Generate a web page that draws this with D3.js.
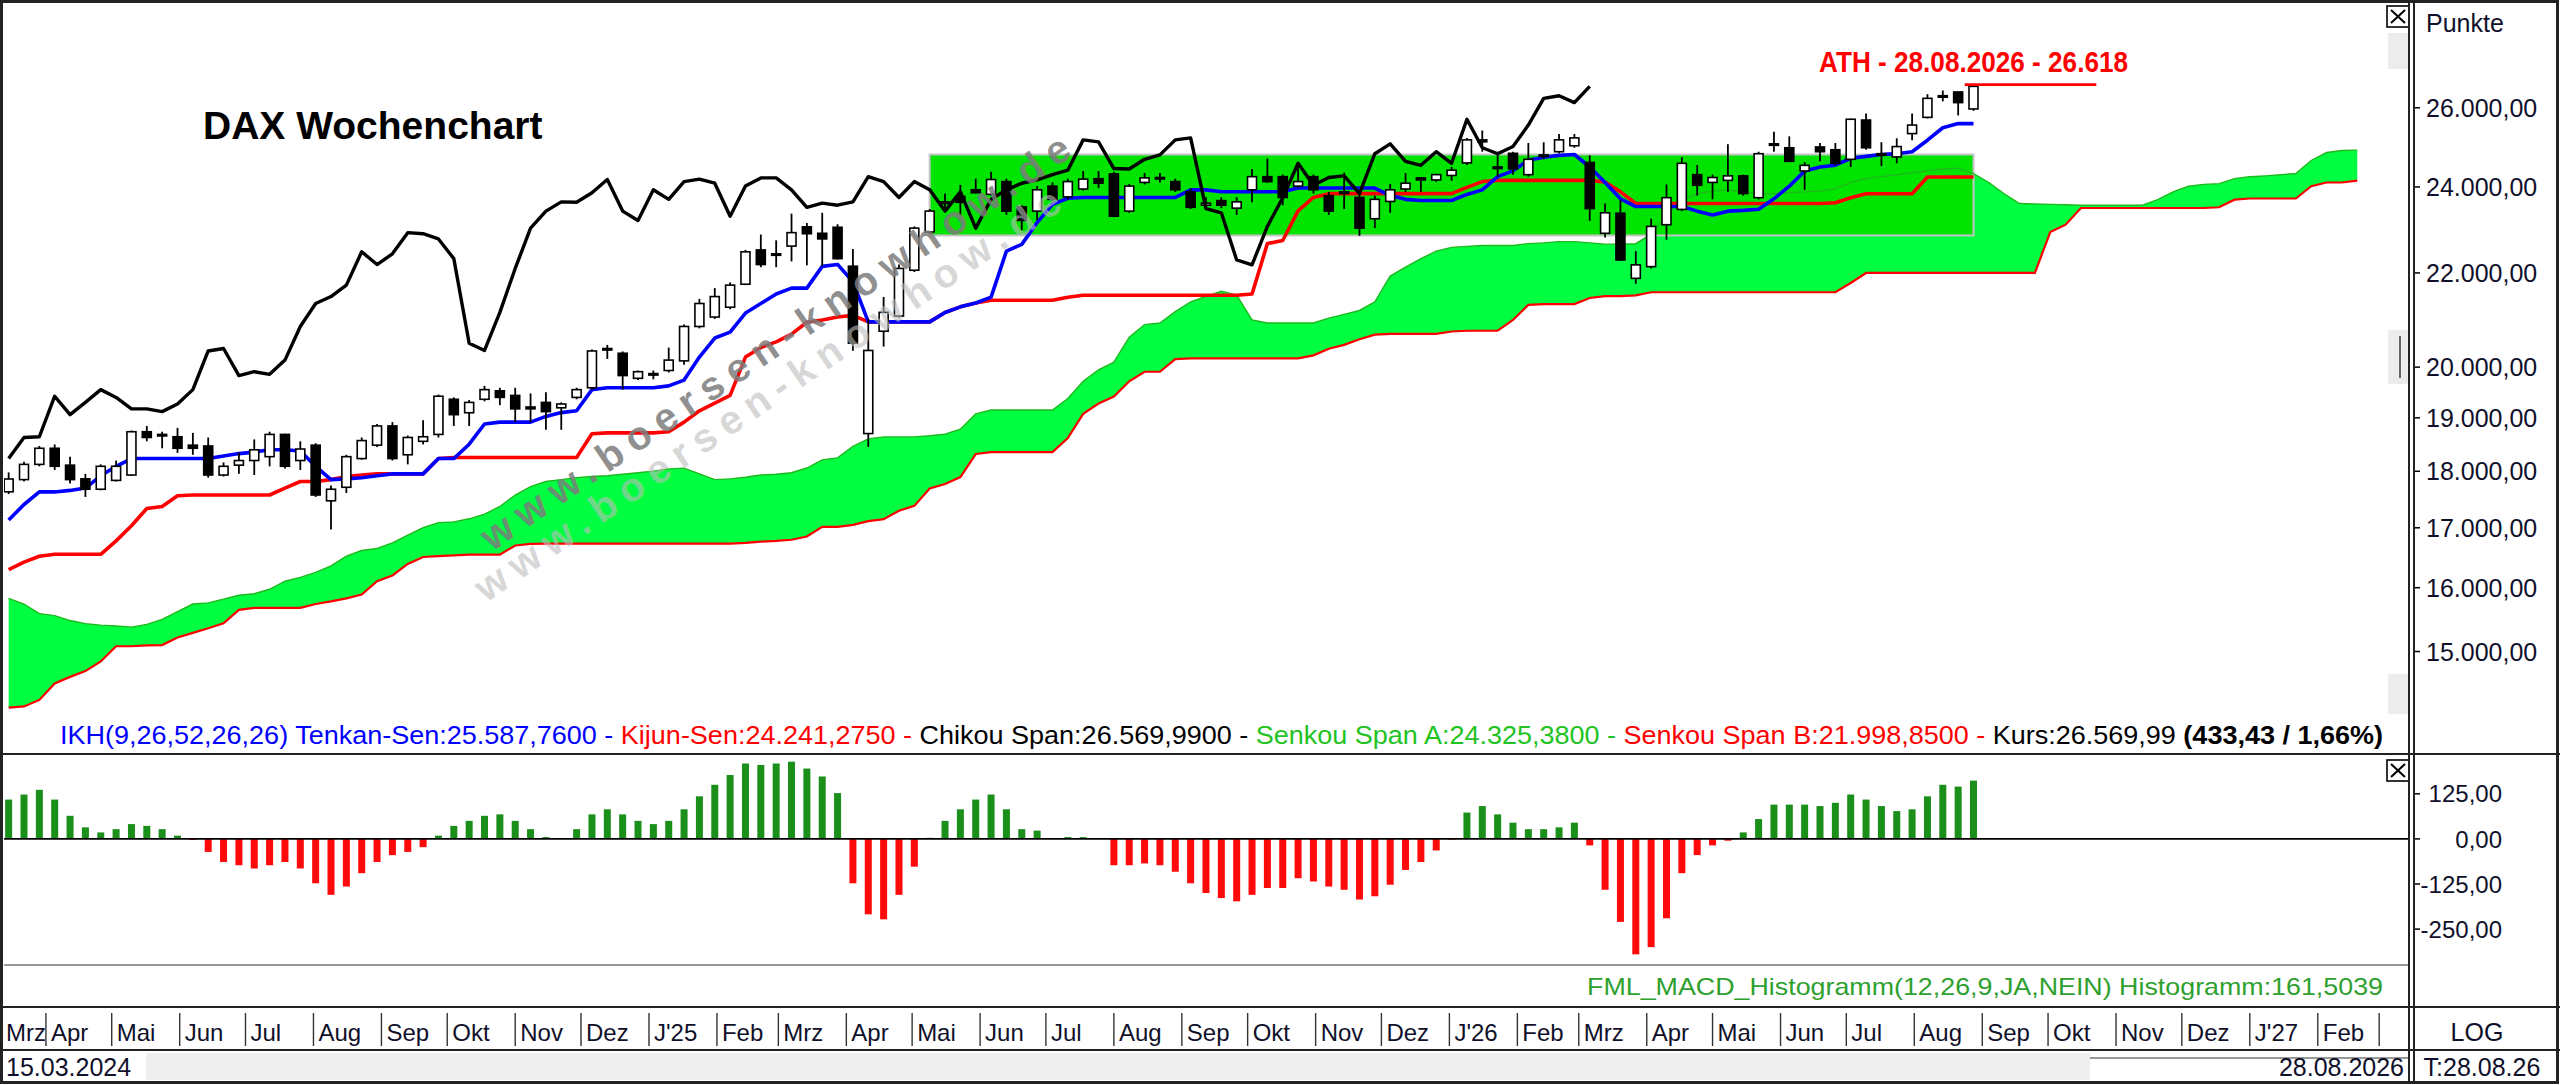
<!DOCTYPE html>
<html>
<head>
<meta charset="utf-8">
<script src="https://cdn.jsdelivr.net/npm/d3@7"></script>
<style>
  body { margin: 0; background: #fff; }
  svg { display: block; }
  text { font-family: "Liberation Sans", Arial, sans-serif; }
</style>
</head>
<body>
<svg id="chart" width="2560" height="1085"></svg>
<script>
// weekly candles, first week ends 15.03.2024
const firstWeek = "2024-03-15";
const opens = [17630,17849,18126,18424,18112,17863,17676,17835,17932,18735,18684,18640,18482,18467,17932,18112,18197,18268,18684,18197,
  18482,17470,17711,18233,18482,18845,18303,18554,18684,19360,19098,19360,19527,19436,19210,19299,19194,19397,19587,20360,
  20283,19775,19870,19932,20127,20840,21040,21250,21750,22518,22400,22606,23050,22900,23040,22150,18700,20740,21060,22060,
  22930,23600,23770,23930,23820,24130,23520,23420,24020,23760,23950,24200,24320,23420,24110,24230,24130,23880,23560,23670,
  23490,23930,24250,24250,24020,24250,23790,23840,23745,23240,23650,23950,24220,24170,24280,24590,25170,24490,24830,24300,
  24770,24870,25020,24600,22900,23370,21880,22140,23100,23460,24300,24110,24160,24270,23740,25040,24970,24390,24990,24920,
  24680,25680,24800,24740,25330,25750,26290,26420,25970];
const highs = [17980,18175,18467,18496,18268,17953,18126,18197,18757,18845,18735,18808,18713,18626,18162,18339,18590,18735,18698,18554,
  18518,17745,18303,18626,18882,18918,18662,18955,19451,19397,19345,19625,19587,19587,19474,19497,19299,19587,20360,20455,
  20320,19932,19932,20400,20880,21430,21665,21790,22518,22871,22738,23360,23140,23380,23110,22540,21000,21470,22190,23060,
  23470,23840,24050,24200,24370,24200,23560,24020,24110,24200,24390,24390,24370,24070,24340,24340,24200,23970,23750,23750,
  23750,24440,24700,24300,24580,24300,23880,24350,23840,23790,24070,24340,24220,24320,24490,25220,25410,24870,24870,25090,
  25110,25320,25320,24780,23600,23690,22490,23240,24060,24730,24540,24300,25060,24300,24870,25380,25260,24610,25090,25090,
  25720,25850,25110,25210,25850,26360,26460,26420,26618];
const lows = [17590,17815,18091,18022,17780,17539,17656,17815,17918,18554,18424,18339,18303,17884,17904,17953,17932,18091,18050,18022,
  17539,16970,17608,18211,18446,18197,18126,18496,18626,18845,18845,19321,19246,18918,18918,18772,18772,19360,19550,20166,
  19550,19740,19755,19893,20050,20800,21000,21206,21730,22128,22128,22257,22170,22150,22300,20335,18450,20420,21030,22020,
  22890,23430,23300,23840,23790,23330,22970,23200,23650,23700,23910,23970,23280,23380,24060,24110,23880,23470,23450,23490,
  23330,23630,24100,23560,23980,23840,23330,23470,22840,23020,23380,23880,23880,24120,24150,24540,24870,24250,24300,24250,
  24680,24830,24970,23190,22800,22270,21760,22100,22750,23420,23790,23700,23880,23790,23700,24870,24610,23930,24630,24530,
  24490,24920,24510,24580,25160,25720,26170,25800,25920];
const closes = [17860,18126,18424,18091,17849,17676,18091,18091,18735,18626,18655,18424,18424,17932,18091,18197,18396,18684,18091,18410,
  17573,17676,18268,18568,18845,18233,18626,18640,19420,19061,19299,19550,19397,19173,19173,19120,19268,19550,20330,20380,
  19830,19908,19855,20143,20840,21330,21480,21730,22475,22187,22430,22915,22890,22770,22320,20490,20340,21140,22100,23020,
  23420,23640,23630,23860,24180,23420,23200,23930,23700,24130,24190,24090,23300,24020,24220,24220,23930,23510,23610,23560,
  23640,24250,24130,23745,24130,23930,23420,23880,23020,23700,23930,24090,24170,24300,24410,25170,25120,24450,24440,24680,
  24790,25170,25220,23480,23380,22290,22180,23060,23740,24580,24040,24230,24270,23840,24820,25070,24630,24530,24870,24580,
  25700,24970,24820,25000,25550,26250,26320,26137,26570];

// Ichimoku lines
const tenkan = [17136,17405,17628,17628,17655,17697,17918,18091,18233,18233,18233,18233,18233,18233,18282,18325,18353,18396,18396,18374,
  18091,17849,17863,17884,17918,17953,17953,17953,18233,18233,18500,18882,18918,18918,18918,19028,19101,19136,19550,19587,
  19587,19587,19587,19625,19740,20205,20598,20720,21124,21330,21537,21665,21665,22146,22190,21805,20937,20937,20937,20937,
  20937,21138,21258,21342,21467,22491,22645,23150,23580,23727,23745,23745,23745,23745,23745,23745,23745,23928,23928,23882,
  23882,23882,23882,23882,23973,23973,23973,23973,23973,23973,23790,23700,23672,23672,23672,23818,23928,24250,24393,24658,
  24730,24778,24800,24489,24108,23712,23528,23528,23528,23528,23419,23330,23419,23437,23465,23712,24017,24392,24487,24534,
  24705,24753,24802,24821,24870,25161,25480,25588,25588];
const kijun = [16295,16420,16518,16550,16550,16550,16550,16776,17036,17336,17370,17559,17573,17573,17573,17573,17573,17573,17697,17815,
  17815,17849,17904,17932,17953,17953,17953,17953,18233,18254,18254,18254,18254,18254,18254,18254,18254,18254,18698,18713,
  18713,18713,18713,18735,18918,19136,19284,19436,20205,20400,20517,20680,20930,20977,21042,21075,20937,20937,20937,20937,
  20937,21138,21258,21342,21400,21400,21400,21400,21400,21467,21510,21510,21510,21510,21510,21510,21510,21510,21510,21510,
  21510,21535,22663,22734,23425,23745,23837,23837,23837,23837,23837,23837,23837,23837,23837,23990,24130,24160,24160,24160,
  24160,24160,24160,24160,24120,23880,23600,23600,23600,23600,23600,23600,23600,23600,23600,23600,23600,23600,23600,23620,
  23740,23834,23834,23834,23834,24241,24241,24241,24241];
const senkouA = [15829,15738,15586,15555,15477,15429,15405,15393,15375,15417,15495,15616,15738,15756,15817,15878,15902,15975,16105,16168,
  16250,16358,16518,16614,16647,16743,16873,17003,17089,17102,17155,17236,17370,17573,17724,17814,17849,17884,17904,17918,
  17946,17974,18002,18043,18057,17953,17849,17863,17891,17932,17946,17974,18060,18210,18246,18458,18600,18637,18637,18637,
  18658,18688,18782,19076,19150,19150,19150,19150,19150,19376,19716,19945,20100,20614,20880,20913,21155,21367,21485,21594,
  21510,20977,20913,20913,20913,20913,21017,21098,21180,21367,21931,22130,22320,22490,22577,22600,22620,22620,22620,22663,
  22680,22708,22708,22680,22650,22650,22660,22880,23330,23693,23834,23898,23926,23880,23834,23834,23862,23880,23898,23953,
  24108,24203,24250,24298,24345,24392,24440,24460,24325,24108,23834,23600,23590,23580,23570,23560,23560,23560,23560,23560,
  23693,23880,24017,24062,24080,24203,24250,24270,24298,24327,24650,24850,24900,24910];
const senkouB = [14172,14189,14283,14523,14620,14706,14850,15080,15080,15092,15098,15213,15285,15357,15434,15646,15677,15677,15677,15677,
  15738,15780,15829,15890,16105,16199,16390,16505,16518,16531,16545,16545,16545,16698,16724,16731,16731,16731,16731,16731,
  16731,16731,16731,16731,16731,16731,16731,16731,16743,16763,16776,16795,16850,17015,17015,17050,17116,17149,17295,17381,
  17688,17770,17895,18317,18352,18352,18352,18352,18352,18615,19076,19277,19413,19716,19907,19907,20162,20178,20178,20178,
  20178,20178,20178,20178,20178,20240,20375,20455,20573,20669,20685,20685,20685,20685,20734,20750,20750,20750,20977,21300,
  21317,21317,21317,21450,21490,21490,21506,21574,21574,21574,21574,21574,21574,21574,21574,21574,21574,21574,21574,21574,
  21776,21999,21999,21999,21999,21999,21999,21999,21999,21999,21999,21999,21999,22930,23100,23493,23493,23493,23493,23493,
  23493,23493,23493,23493,23512,23693,23720,23720,23720,23720,24017,24108,24108,24155];
const chikouShift = 25;

// MACD histogram (12,26,9)
const macdHist = [109,123,136,109,64,32,18,27,41,36,27,9,-3,-36,-64,-73,-82,-73,-64,-82,
  -123,-155,-132,-95,-64,-45,-36,-23,9,36,50,64,68,50,27,5,2,27,68,82,
  68,50,41,50,82,118,150,177,209,205,209,214,195,173,127,-123,-209,-223,-155,-77,
  3,50,82,109,123,82,27,23,2,5,5,2,-73,-73,-68,-73,-91,-123,-150,-164,
  -173,-155,-136,-136,-109,-118,-132,-141,-168,-159,-127,-86,-64,-32,-2,73,91,68,45,27,
  27,32,45,-18,-141,-230,-320,-300,-220,-95,-45,-18,-5,18,55,95,95,95,91,100,
  123,109,91,77,82,118,150,145,161.5];

const monthLabels = ["Mrz","Apr","Mai","Jun","Jul","Aug","Sep","Okt","Nov","Dez","J'25","Feb",
  "Mrz","Apr","Mai","Jun","Jul","Aug","Sep","Okt","Nov","Dez","J'26","Feb",
  "Mrz","Apr","Mai","Jun","Jul","Aug","Sep","Okt","Nov","Dez","J'27","Feb"];
const priceTicks = [15000,16000,17000,18000,19000,20000,22000,24000,26000];
const macdTicks = [125,0,-125,-250];

// consolidation box and all time high
const boxFrom = "2025-05-09", boxTo = "2026-08-28";
const boxLow = 22850, boxHigh = 24800;
const athDate = "2026-08-28", athValue = 26618;

const legendParts = [
  {text: "IKH(9,26,52,26,26) Tenkan-Sen:25.587,7600 - ", color: "#0000ff"},
  {text: "Kijun-Sen:24.241,2750 - ", color: "#ff0000"},
  {text: "Chikou Span:26.569,9900 - ", color: "#000000"},
  {text: "Senkou Span A:24.325,3800 - ", color: "#22c322"},
  {text: "Senkou Span B:21.998,8500 - ", color: "#ff0000"},
  {text: "Kurs:26.569,99 ", color: "#000000"},
  {text: "(433,43 / 1,66%)", color: "#000000", bold: true}
];

const svg = d3.select("#chart");
const plotL = 4, plotR = 2409, mainT = 4, mainB = 754, macdB = 1007, axisB = 1050, bottomB = 1082;
const narrow = "'Liberation Sans Narrow','Arial Narrow','Liberation Sans',sans-serif";

const parse = d3.utcParse("%Y-%m-%d");
const start = parse(firstWeek);
const weekDate = i => d3.utcDay.offset(start, 7 * i);
const weeks = opens.map((_, i) => weekDate(i));

const x = d3.scaleUtc().domain([start, weeks[weeks.length - 1]]).range([8.65, 1973.5]);
const y = d3.scaleLog().domain([15000, 26000]).range([651.5, 107.8]);
const ym = d3.scaleLinear().domain([-250, 125]).range([929.1, 793.8]);

svg.append("rect").attr("width", 2560).attr("height", 1085).attr("fill", "#fff");

const defs = svg.append("defs");
defs.append("clipPath").attr("id", "clipMain").append("rect")
  .attr("x", plotL).attr("y", mainT).attr("width", plotR - plotL - 1).attr("height", mainB - mainT - 2);
defs.append("clipPath").attr("id", "clipMacd").append("rect")
  .attr("x", plotL).attr("y", mainB + 2).attr("width", plotR - plotL - 1).attr("height", macdB - mainB - 4);

const main = svg.append("g").attr("clip-path", "url(#clipMain)");

// cloud
const cloud = senkouA.map((a, i) => ({d: weekDate(i), a, b: senkouB[i]}));
main.append("path").datum(cloud)
  .attr("fill", "#00ff40")
  .attr("d", d3.area().x(p => x(p.d)).y0(p => y(p.b)).y1(p => y(p.a)));

// box
main.append("rect")
  .attr("x", x(parse(boxFrom))).attr("width", x(parse(boxTo)) - x(parse(boxFrom)))
  .attr("y", y(boxHigh)).attr("height", y(boxLow) - y(boxHigh))
  .attr("fill", "#00e400").attr("stroke", "#c4c4c4").attr("stroke-width", 2);

const line = d3.line().x(p => x(p.d)).y(p => y(p.v));
const series = (arr, off = 0) => arr.map((v, i) => ({d: weekDate(i - off), v}));

main.append("path").datum(series(senkouA)).attr("d", line)
  .attr("fill", "none").attr("stroke", "#1fb81f").attr("stroke-width", 1.4);
main.append("path").datum(series(senkouB)).attr("d", line)
  .attr("fill", "none").attr("stroke", "#ff0000").attr("stroke-width", 2.2);
main.append("path").datum(series(kijun)).attr("d", line)
  .attr("fill", "none").attr("stroke", "#ff0000").attr("stroke-width", 3.6).attr("stroke-linejoin", "round");
main.append("path").datum(series(tenkan)).attr("d", line)
  .attr("fill", "none").attr("stroke", "#0000ff").attr("stroke-width", 3.6).attr("stroke-linejoin", "round");

// candles
const candles = weeks.map((d, i) => ({d, o: opens[i], h: highs[i], l: lows[i], c: closes[i]}));
const cg = main.append("g").selectAll("g").data(candles).enter().append("g");
cg.append("line")
  .attr("x1", p => x(p.d)).attr("x2", p => x(p.d))
  .attr("y1", p => y(p.h)).attr("y2", p => y(p.l))
  .attr("stroke", "#000").attr("stroke-width", 1.8);
cg.append("rect")
  .attr("x", p => x(p.d) - 4.5).attr("width", 9)
  .attr("y", p => y(Math.max(p.o, p.c)))
  .attr("height", p => Math.max(1.5, Math.abs(y(p.o) - y(p.c))))
  .attr("fill", p => p.c >= p.o ? "#fff" : "#000")
  .attr("stroke", "#000").attr("stroke-width", 1.6);

// chikou span = close shifted back
main.append("path").datum(series(closes.slice(chikouShift))).attr("d", line)
  .attr("fill", "none").attr("stroke", "#000").attr("stroke-width", 3.4).attr("stroke-linejoin", "round");

// ATH
main.append("line")
  .attr("x1", x(d3.utcDay.offset(parse(athDate), -4))).attr("x2", x(d3.utcDay.offset(parse(athDate), 56)))
  .attr("y1", y(athValue)).attr("y2", y(athValue))
  .attr("stroke", "#ff0000").attr("stroke-width", 2.6);
svg.append("text").attr("x", x(parse(athDate))).attr("y", 72).attr("text-anchor", "middle")
  .attr("font-family", narrow).attr("font-weight", "bold").attr("font-size", 30)
  .attr("fill", "#ff0000").attr("textLength", 309).attr("lengthAdjust", "spacingAndGlyphs")
  .text("ATH - 28.08.2026 - 26.618");

// title
svg.append("text").attr("x", 203).attr("y", 139).attr("font-weight", "bold").attr("font-size", 39)
  .attr("fill", "#000").text("DAX Wochenchart");

// watermark
const wm = svg.append("g").attr("font-weight", "bold").attr("font-size", 40);
wm.append("text").attr("transform", "translate(486,603) rotate(-34.3)")
  .attr("fill", "#bdbdbd").attr("fill-opacity", 0.6)
  .attr("textLength", 700).attr("lengthAdjust", "spacing").text("www.boersen-knowhow.de");
wm.append("text").attr("transform", "translate(492,552) rotate(-34.3)")
  .attr("fill", "#7c7c7c").attr("fill-opacity", 0.85)
  .attr("textLength", 704).attr("lengthAdjust", "spacing").text("www.boersen-knowhow.de");

// main legend
const legend = svg.append("text").attr("x", 60).attr("y", 744)
  .attr("font-family", narrow).attr("font-size", 25)
  .attr("textLength", 2323).attr("lengthAdjust", "spacingAndGlyphs")
  .style("white-space", "pre");
legendParts.forEach(p => legend.append("tspan").attr("fill", p.color)
  .attr("font-weight", p.bold ? "bold" : null).text(p.text));

// MACD
const macd = svg.append("g").attr("clip-path", "url(#clipMacd)");
macd.selectAll("rect").data(macdHist).enter().append("rect")
  .attr("x", (v, i) => x(weeks[i]) - 3.5).attr("width", 7)
  .attr("y", v => Math.min(ym(0), ym(v)))
  .attr("height", v => Math.abs(ym(v) - ym(0)))
  .attr("fill", v => v >= 0 ? "#1a8f1a" : "#ff0a0a");
svg.append("line").attr("x1", plotL).attr("x2", plotR).attr("y1", ym(0)).attr("y2", ym(0))
  .attr("stroke", "#000").attr("stroke-width", 1.6);
svg.append("line").attr("x1", plotL).attr("x2", plotR).attr("y1", 965).attr("y2", 965)
  .attr("stroke", "#333").attr("stroke-width", 1.2);
svg.append("text").attr("x", 2383).attr("y", 995).attr("text-anchor", "end")
  .attr("font-family", narrow).attr("font-size", 24).attr("fill", "#2ea02e")
  .attr("textLength", 796).attr("lengthAdjust", "spacingAndGlyphs")
  .text("FML_MACD_Histogramm(12,26,9,JA,NEIN) Histogramm:161,5039");

// right axis
const axisX = 2414;
const yAxis = svg.append("g");
yAxis.selectAll("line").data(priceTicks).enter().append("line")
  .attr("x1", axisX).attr("x2", axisX + 6).attr("y1", v => y(v)).attr("y2", v => y(v))
  .attr("stroke", "#000").attr("stroke-width", 1.5);
yAxis.selectAll("text").data(priceTicks).enter().append("text")
  .attr("x", 2426).attr("y", v => y(v)).attr("dy", "0.36em")
  .attr("font-size", 25).attr("fill", "#10102a")
  .text(v => d3.format(",.2f")(v).replace(/,/g, "#").replace(".", ",").replace(/#/g, "."));
svg.append("text").attr("x", 2426).attr("y", 32).attr("font-size", 25).attr("fill", "#10102a").text("Punkte");

const mAxis = svg.append("g");
mAxis.selectAll("line").data(macdTicks).enter().append("line")
  .attr("x1", axisX).attr("x2", axisX + 6).attr("y1", v => ym(v)).attr("y2", v => ym(v))
  .attr("stroke", "#000").attr("stroke-width", 1.5);
mAxis.selectAll("text").data(macdTicks).enter().append("text")
  .attr("x", 2502).attr("y", v => ym(v)).attr("dy", "0.36em").attr("text-anchor", "end")
  .attr("font-size", 24).attr("fill", "#10102a")
  .text(v => d3.format(".2f")(v).replace(".", ",").replace("−", "-"));

// time axis
const months = d3.utcMonth.range(Date.UTC(2024, 3, 1), Date.UTC(2027, 2, 2)).filter(m => x(m) < plotR - 4);
const tAxis = svg.append("g");
tAxis.selectAll("line").data(months).enter().append("line")
  .attr("x1", m => x(m)).attr("x2", m => x(m)).attr("y1", 1013).attr("y2", 1046)
  .attr("stroke", "#333").attr("stroke-width", 1.4);
tAxis.selectAll("text").data(monthLabels).enter().append("text")
  .attr("x", (t, k) => k === 0 ? 6 : x(months[k - 1]) + 5).attr("y", 1041)
  .attr("font-size", 24).attr("fill", "#10102a").text(t => t);

// bottom row
svg.append("rect").attr("x", 146).attr("y", 1053).attr("width", 1944).attr("height", 27).attr("fill", "#efefef");
svg.append("line").attr("x1", 2090).attr("x2", 2408).attr("y1", 1058).attr("y2", 1058).attr("stroke", "#777").attr("stroke-width", 1.5);
svg.append("text").attr("x", 6).attr("y", 1076).attr("font-size", 25).attr("fill", "#10102a").text("15.03.2024");
svg.append("text").attr("x", 2404).attr("y", 1076).attr("text-anchor", "end").attr("font-size", 25).attr("fill", "#10102a").text("28.08.2026");
svg.append("text").attr("x", 2477).attr("y", 1041).attr("text-anchor", "middle").attr("font-size", 25).attr("fill", "#10102a").text("LOG");
svg.append("text").attr("x", 2482).attr("y", 1076).attr("text-anchor", "middle").attr("font-size", 25).attr("fill", "#10102a").text("T:28.08.26");

// little window widgets
const ui = svg.append("g");
[[33, 36], [330, 54], [674, 40]].forEach(([top, h]) =>
  ui.append("rect").attr("x", 2388).attr("y", top).attr("width", 21).attr("height", h).attr("fill", "#ececec"));
ui.append("line").attr("x1", 2400).attr("x2", 2400).attr("y1", 336).attr("y2", 378).attr("stroke", "#666").attr("stroke-width", 2);
[6, 760].forEach(top => {
  ui.append("rect").attr("x", 2387).attr("y", top).attr("width", 22).attr("height", 21)
    .attr("fill", "#fff").attr("stroke", "#000").attr("stroke-width", 1.6);
  ui.append("path").attr("d", `M2391,${top + 4}L2405,${top + 17}M2405,${top + 4}L2391,${top + 17}`)
    .attr("stroke", "#000").attr("stroke-width", 2);
});

// frame
const frame = svg.append("g").attr("stroke", "#222").attr("fill", "none");
frame.append("rect").attr("x", 1.5).attr("y", 1.5).attr("width", 2556).attr("height", 1081).attr("stroke-width", 3);
frame.append("line").attr("x1", plotR).attr("x2", plotR).attr("y1", 0).attr("y2", bottomB).attr("stroke-width", 2);
frame.append("line").attr("x1", axisX).attr("x2", axisX).attr("y1", 0).attr("y2", bottomB).attr("stroke-width", 2);
[mainB, macdB, axisB].forEach(v =>
  frame.append("line").attr("x1", 0).attr("x2", 2560).attr("y1", v).attr("y2", v).attr("stroke-width", 2));
</script>
</body>
</html>
